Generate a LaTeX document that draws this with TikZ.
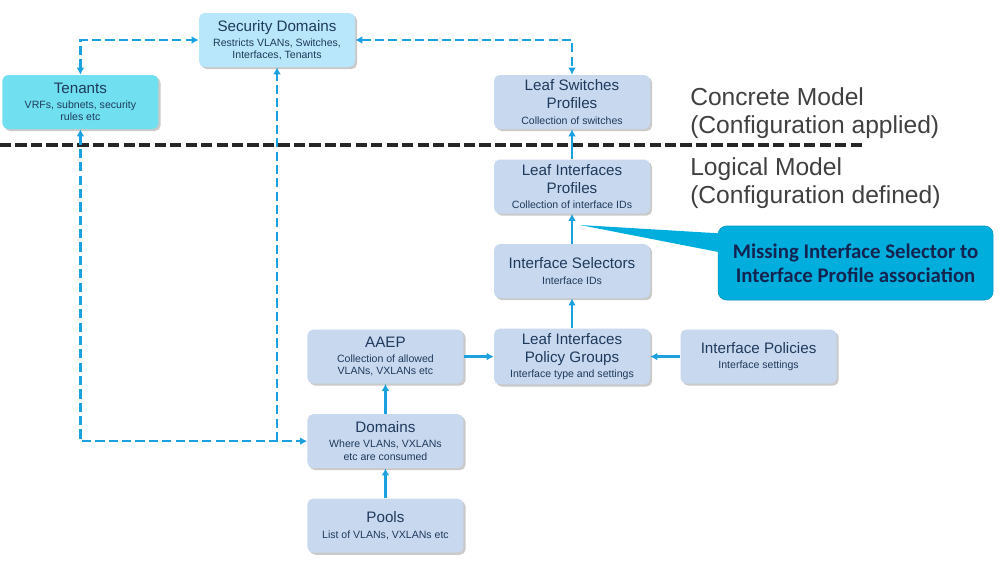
\documentclass[tikz,border=0pt]{standalone}
\usepackage{fontspec}
\setmainfont{Liberation Sans}
\newfontfamily\calloutfont{Carlito}
\usepackage{xcolor}
\usetikzlibrary{shapes, arrows.meta, positioning, shadows}

\definecolor{boxblue}{RGB}{200,216,238}
\definecolor{secblue}{RGB}{184,230,250}
\definecolor{tenblue}{RGB}{112,224,240}
\definecolor{boxtext}{RGB}{30,58,92}
\definecolor{linkblue}{RGB}{27,160,224}
\definecolor{modelgray}{RGB}{64,64,64}
\definecolor{callblue}{RGB}{0,174,222}
\definecolor{calltext}{RGB}{18,36,80}

\newcommand{\boxsub}[1]{{\fontsize{7.5}{8.5}\selectfont #1}}

\begin{document}
\begin{tikzpicture}[
                node distance=0.75cm,
                box/.style={rectangle, fill=boxblue, text=boxtext, minimum width=3.9cm, minimum height=1.35cm, align=center, rounded corners=4pt, font=\fontsize{10.8}{12.8}\selectfont, drop shadow={shadow xshift=1.5pt, shadow yshift=-1.5pt, opacity=0.35, fill=black!60}},
                link/.style={draw=linkblue, line width=1.7pt},
                arrow/.style={link, -{Latex[length=5pt,width=5.5pt]}},
                oneway/.style={arrow, dash pattern=on 6.5pt off 3pt},
                twoway/.style={link, dash pattern=on 6.5pt off 3pt, {Latex[length=5pt,width=5.5pt]}-{Latex[length=5pt,width=5.5pt]}},
                sepline/.style={draw=black!85, line width=2.5pt, dash pattern=on 8pt off 3pt},
                modeltext/.style={align=left, text=modelgray, inner sep=0pt, font=\fontsize{17.5}{20}\selectfont},
                callout/.style={rectangle, fill=callblue, draw=callblue!85!black, rounded corners=6pt, minimum width=6.875cm, minimum height=1.85cm, align=center, text=calltext, font=\calloutfont\bfseries\fontsize{14.8}{17}\selectfont}
            ]
                \useasboundingbox (0,0) rectangle (24.95,-14.1);

                % separator between the two models
                \coordinate (sepl) at (0,-3.625);
                \coordinate (sepr) at (21.63,-3.625);
                \draw[sepline] (sepl) -- (sepr);

                \node[box] (lsp) at (14.3,-2.55) {Leaf Switches\\Profiles\\[-2pt]\boxsub{Collection of switches}};
                \node[box, below=of lsp] (lip) {Leaf Interfaces\\Profiles\\[-2pt]\boxsub{Collection of interface IDs}};
                \node[box, below=of lip] (isel) {Interface Selectors\\[-2pt]\boxsub{Interface IDs}};
                \node[box, below=of isel] (lipg) {Leaf Interfaces\\Policy Groups\\[-2pt]\boxsub{Interface type and settings}};
                \node[box, left=of lipg] (aaep) {AAEP\\[-2pt]\boxsub{Collection of allowed}\\[-4pt]\boxsub{VLANs, VXLANs etc}};
                \node[box, right=of lipg] (ipol) {Interface Policies\\[-2pt]\boxsub{Interface settings}};
                \node[box, below=of aaep] (dom) {Domains\\[-2pt]\boxsub{Where VLANs, VXLANs}\\[-4pt]\boxsub{etc are consumed}};
                \node[box, below=of dom] (pools) {Pools\\[-2pt]\boxsub{List of VLANs, VXLANs etc}};
                \node[box, fill=secblue] (sd) at (6.925,-1.0) {Security Domains\\[-2pt]\boxsub{Restricts VLANs, Switches,}\\[-4pt]\boxsub{Interfaces, Tenants}};
                \node[box, fill=tenblue] (ten) at (2.01,-2.55) {Tenants\\[-2pt]\boxsub{VRFs, subnets, security}\\[-4pt]\boxsub{rules etc}};

                \node[modeltext, anchor=west] (concrete) at (17.25,-2.825) {Concrete Model\\(Configuration applied)};
                \node[modeltext, anchor=west] (logical) at (17.25,-4.575) {Logical Model\\(Configuration defined)};

                \draw[arrow] (pools) -- (dom);
                \draw[arrow] (dom) -- (aaep);
                \draw[arrow] (aaep) -- (lipg);
                \draw[arrow] (ipol) -- (lipg);
                \draw[arrow] (lipg) -- (isel);
                \draw[arrow] (isel) -- (lip);
                \draw[arrow] (lip) -- (lsp);

                \draw[twoway] (ten.north) |- (sd.west);
                \draw[twoway] (sd.east) -| (lsp.north);
                \draw[twoway] (ten.south) |- (dom.west);
                \coordinate (sdfoot) at (sd.south |- dom.west);
                \draw[oneway] (sdfoot) -- (sd.south);

                % callout
                \node[callout] (miss) at (21.39,-6.575) {Missing Interface Selector to\\Interface Profile association};
                \coordinate (ptip) at (14.5,-5.625);
                \fill[callblue] (ptip) -- ([xshift=0.4cm, yshift=0.72cm]miss.west) -- ([xshift=0.4cm, yshift=0.2cm]miss.west) -- cycle;
            \end{tikzpicture}
\end{document}
